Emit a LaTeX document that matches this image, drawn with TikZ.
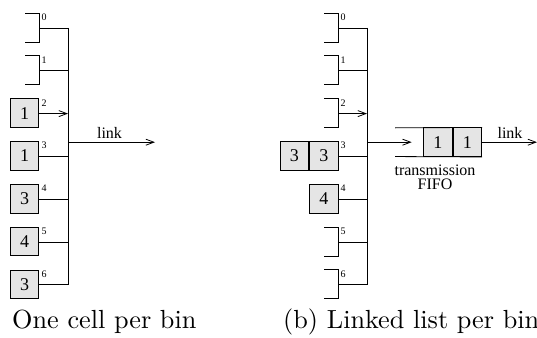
\documentclass[tikz,border=0pt]{standalone}
\usepackage{fontspec}
\newfontfamily\tms{Liberation Serif}
\newfontfamily\capfont{lmroman10-regular.otf}
\usetikzlibrary{arrows.meta}
\definecolor{cellgray}{HTML}{E5E5E5}
\begin{document}
\begin{tikzpicture}[x=1pt,y=-1pt,
  wire/.style={line width=0.8pt},
  arrowwire/.style={line width=0.8pt,-{Straight Barb[length=8pt,width=6pt,line width=0.8pt]}},
  cell/.style={draw, line width=0.8pt, fill=cellgray, minimum width=28.7pt,
    minimum height=28.7pt, inner sep=0pt, font=\tms\fontsize{18}{18}\selectfont},
  binno/.style={font=\tms\fontsize{10}{10}\selectfont, inner sep=0pt, anchor=base west},
  lbl/.style={font=\tms\fontsize{16}{14}\selectfont, inner sep=0pt, anchor=base},
  captext/.style={font=\capfont\fontsize{26.2}{30}\selectfont, inner sep=0pt, anchor=base west}]
\useasboundingbox (0,0) rectangle (537,337);

% ---------------- (a) one cell per bin ----------------
\coordinate (Ltop) at (68,28);
\coordinate (Lbot) at (68,284.8);
\draw[wire] (Ltop) -- (Lbot);
% empty bins
\foreach \i/\y in {0/28,1/70.8} {
  \coordinate (La\i) at (39,\y);
  \draw[wire] (25,\y-15) -| (39,\y+14) -- (25,\y+14);
  \draw[wire] (La\i) -- (La\i -| Ltop);
  \node[binno] at (41.5,\y-7.5) {\i};
}
% occupied bins
\foreach \i/\y/\v in {2/113.6/1,3/156.4/1,4/199.2/3,5/242/4,6/284.8/3} {
  \node[cell] (L\i) at (24.5,\y-0.5) {\v};
  \node[binno] at (41.5,\y-7.5) {\i};
}
\draw[arrowwire] (L2.east |- 0,113.6) -- (68,113.6);
\foreach \i/\y in {3/156.4,4/199.2,5/242,6/284.8}
  \draw[wire] (L\i.east |- 0,\y) -- (Ltop |- 0,\y);
% output link
\coordinate (Lout) at (68,142.2);
\coordinate (Lend) at (155,142.2);
\draw[arrowwire] (Lout) -- (Lend);
\node[lbl] (Llink) at (109.5,138) {link};

% ---------------- (b) linked list per bin ----------------
\coordinate (Rtop) at (367,28);
\coordinate (Rbot) at (367,284.8);
\draw[wire] (Rtop) -- (Rbot);
% empty bins
\foreach \i/\y in {0/28,1/70.8,2/113.6,5/242,6/284.8} {
  \coordinate (Ra\i) at (338,\y);
  \draw[wire] (324,\y-15) -| (338,\y+14) -- (324,\y+14);
  \node[binno] at (340.5,\y-7.5) {\i};
}
\foreach \i in {0,1,5,6}
  \draw[wire] (Ra\i) -- (Ra\i -| Rtop);
\draw[arrowwire] (Ra2) -- (Ra2 -| Rtop);
% bin 3: two cells, bin 4: one cell
\node[cell] (R3b) at (323.85,155.9) {3};
\node[cell, anchor=east] (R3a) at (R3b.west) {3};
\node[binno] at (340.5,148.9) {3};
\node[cell] (R4) at (323.85,198.7) {4};
\node[binno] at (340.5,191.7) {4};
\draw[wire] (R3b.east |- 0,156.4) -- (Rtop |- 0,156.4);
\draw[wire] (R4.east |- 0,199.2) -- (Rtop |- 0,199.2);
% transmission FIFO
\coordinate (Rout) at (367,142.2);
\coordinate (Fin) at (411.7,142.2);
\draw[arrowwire] (Rout) -- (Fin);
\node[cell] (F2) at (467.35,142.2) {1};
\node[cell, anchor=east] (F1) at (F2.west) {1};
\draw[wire] (395,127.85) -- (F2.north east);
\draw[wire] (395,156.55) -- (F2.south east);
\coordinate (Rend) at (537,142.2);
\draw[arrowwire] (F2.east) -- (Rend);
\node[lbl] (Rlink) at (510,138) {link};
\node[lbl, align=center, anchor=base] (fifo) at (435,189) {transmission\\FIFO};

% ---------------- captions ----------------
\node[captext] (capa) at (12,328) {One cell per bin};
\node[captext] (capb) at (283,328) {(b) Linked list per bin};
\end{tikzpicture}
\end{document}
